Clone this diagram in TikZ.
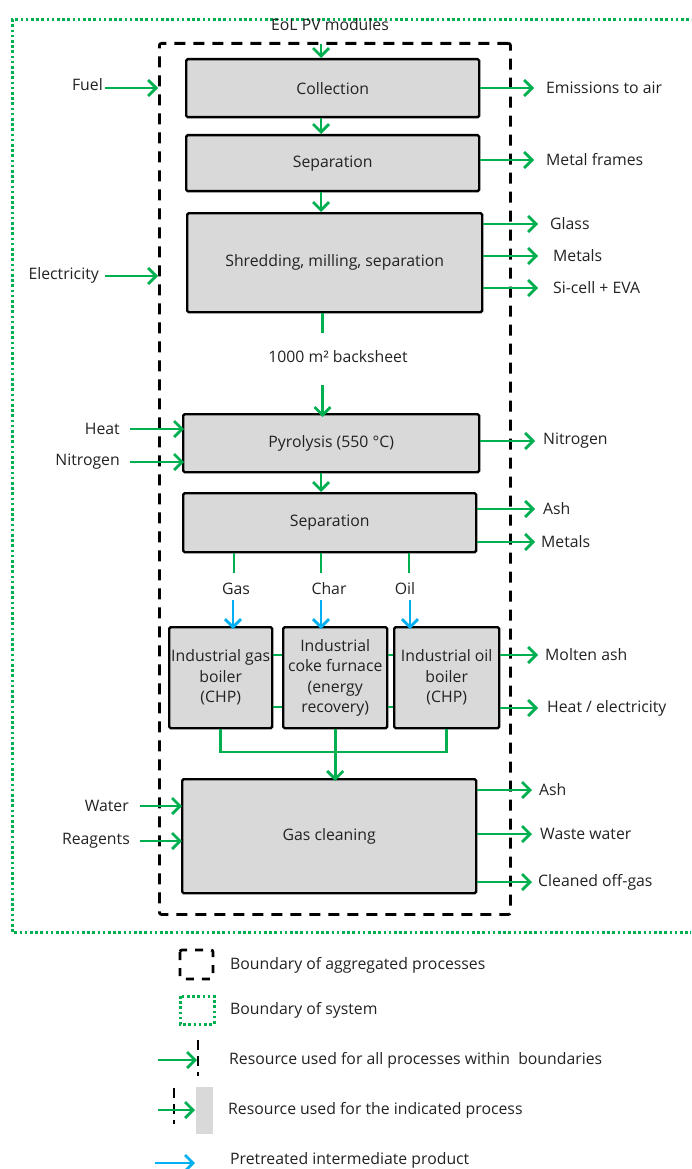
\documentclass[tikz,border=0pt]{standalone}
\usepackage{fontspec}
\setmainfont{Open Sans}
\usetikzlibrary{arrows.meta}
\definecolor{flowgreen}{HTML}{00B050}
\definecolor{pretblue}{HTML}{00B0F0}
\definecolor{boxgray}{HTML}{D9D9D9}
\definecolor{txt}{HTML}{222222}
\begin{document}
\begin{tikzpicture}[x=1pt,y=-1pt,
  every node/.style={font=\fontsize{15.8}{20.5}\selectfont, text=txt},
  proc/.style={draw=black, line width=2.4pt, fill=boxgray, rounded corners=1.5pt,
    anchor=north west, inner sep=0pt, align=center},
  aggline/.style={draw=black, line width=2.8pt, dash pattern=on 11pt off 8pt},
  sysline/.style={draw=flowgreen, line width=3pt, dash pattern=on 2.6pt off 2.6pt},
  flow/.style={draw=flowgreen, line width=2.8pt,
    -{Straight Barb[length=8pt,width=16pt]}},
  pret/.style={draw=pretblue, line width=2.8pt,
    -{Straight Barb[length=8pt,width=16pt]}},
  link/.style={draw=flowgreen, line width=2.6pt},
  inlbl/.style={anchor=east, inner sep=0pt},
  outlbl/.style={anchor=west, inner sep=0pt},
  keylbl/.style={anchor=west, inner sep=0pt},
]
\useasboundingbox (0,0) rectangle (691,1169);
\clip (0,0) rectangle (691,1169);

% system and aggregation boundaries
\draw[sysline] (720,20) -- (12,20) -- (12,932) -- (720,932);
\node[aggline, rounded corners=2pt, anchor=north west, inner sep=0pt,
      minimum width=351pt, minimum height=871pt] (agg) at (158,42) {};

% process boxes
\node[proc, minimum width=293pt, minimum height=58pt]  (coll)  at (185,58)  {Collection};
\node[proc, minimum width=293pt, minimum height=56pt]  (sepa)  at (185,134) {Separation};
\node[proc, minimum width=295pt, minimum height=99pt]  (shred) at (186,212) {Shredding, milling, separation};
\node[proc, minimum width=296pt, minimum height=58pt]  (pyro)  at (182,413) {Pyrolysis (550 °C)};
\node[proc, minimum width=293pt, minimum height=59pt]  (sepb)  at (182,492) {Separation};
\node[proc, minimum width=103pt, minimum height=101pt] (gasb)  at (168,626) {Industrial gas\\boiler\\(CHP)};
\node[proc, minimum width=104pt, minimum height=101pt] (coke)  at (282,626) {Industrial\\coke furnace\\(energy\\recovery)};
\node[proc, minimum width=105pt, minimum height=101pt] (oilb)  at (393,626) {Industrial oil\\boiler\\(CHP)};
\node[proc, minimum width=294pt, minimum height=114pt] (clean) at (181,778) {Gas cleaning};

% main chain
\coordinate (ax) at (321,0);
\coordinate (axb) at (322.5,0);
\node (eol) at (330,25) {EoL PV modules};
\draw[flow, shorten <=2pt] (ax |- agg.north) -- (ax |- coll.north);
\draw[flow] (ax |- coll.south) -- (ax |- sepa.north);
\draw[flow] (ax |- sepa.south) -- (ax |- shred.north);
\node (bs) at (338,357) {1000 m² backsheet};
\draw[link] (axb |- shred.south) -- (axb |- 0,333);
\draw[flow] (axb |- 0,385) -- ([yshift=-4pt]axb |- pyro.north);
\draw[flow] (ax |- pyro.south) -- (ax |- sepb.north);

% split of pyrolysis products
\node (lgas)  at (236,589) {Gas};
\node (lchar) at (329,589) {Char};
\node (loil)  at (405,589) {Oil};
\coordinate (sg) at (234,0);
\coordinate (sc) at (321,0);
\coordinate (so) at (409,0);
\coordinate (bg) at (233,0);
\coordinate (bc) at (321,0);
\coordinate (bo) at (410,0);
\draw[link] (sg |- sepb.south) -- (sg |- 0,573);
\draw[link] (sc |- sepb.south) -- (sc |- 0,573);
\draw[link] (so |- sepb.south) -- (so |- 0,573);
\draw[pret] (bg |- 0,600) -- ([yshift=-3pt]bg |- gasb.north);
\draw[pret] (bc |- 0,600) -- ([yshift=-3pt]bc |- coke.north);
\draw[pret] (bo |- 0,600) -- ([yshift=-3pt]bo |- oilb.north);

% links between the combustion units
\draw[link] (gasb.east |- 0,655) -- (coke.west |- 0,655);
\draw[link] (gasb.east |- 0,707) -- (coke.west |- 0,707);
\draw[link] (coke.east |- 0,655) -- (oilb.west |- 0,655);
\draw[link] (coke.east |- 0,707) -- (oilb.west |- 0,707);
\coordinate (bus) at (0,752);
\draw[link] (gasb.south) |- (coke.south |- bus) -| (oilb.south);
\draw[flow] (coke.south) -- ([yshift=-3pt]coke.south |- clean.north);

% inputs
\node[inlbl] (fuel) at (103,85)  {Fuel};
\node[inlbl] (elec) at (99,275)  {Electricity};
\node[inlbl] (heat) at (120,429) {Heat};
\node[inlbl] (nitr) at (120,462) {Nitrogen};
\node[inlbl] (watr) at (129,806) {Water};
\node[inlbl] (reag) at (130,841) {Reagents};
\draw[flow, shorten <=2pt] (fuel.east |- 0,88) -- (agg.west |- 0,88);
\draw[flow, shorten <=6pt] (elec.east |- 0,276) -- (agg.west |- 0,276);
\draw[flow, shorten <=10pt] (heat.east |- 0,429) -- ([xshift=2pt]pyro.west |- 0,429);
\draw[flow, shorten <=10pt] (nitr.east |- 0,462) -- ([xshift=2pt]pyro.west |- 0,462);
\draw[flow, shorten <=11pt] (watr.east |- 0,806) -- ([xshift=1pt]clean.west |- 0,806);
\draw[flow, shorten <=10pt] (reag.east |- 0,841) -- ([xshift=1pt]clean.west |- 0,841);

% outputs
\node[outlbl] (emis) at (546,88)  {Emissions to air};
\node[outlbl] (mfra) at (546,160) {Metal frames};
\node[outlbl] (glas) at (550,224) {Glass};
\node[outlbl] (meta) at (553,256) {Metals};
\node[outlbl] (sice) at (553,288) {Si-cell + EVA};
\node[outlbl] (nout) at (543,441) {Nitrogen};
\node[outlbl] (asha) at (543,509) {Ash};
\node[outlbl] (metb) at (541,542) {Metals};
\node[outlbl] (molt) at (545,655) {Molten ash};
\node[outlbl] (hele) at (547,708) {Heat / electricity};
\node[outlbl] (ashb) at (539,790) {Ash};
\node[outlbl] (wast) at (540,834) {Waste water};
\node[outlbl] (clog) at (538,882) {Cleaned off-gas};
\draw[flow, shorten >=12pt] (coll.east |- emis.west) -- (emis.west);
\draw[flow, shorten >=12pt] (sepa.east |- mfra.west) -- (mfra.west);
\draw[flow, shorten >=12pt] (shred.east |- glas.west) -- (glas.west);
\draw[flow, shorten >=15pt] (shred.east |- meta.west) -- (meta.west);
\draw[flow, shorten >=15pt] (shred.east |- sice.west) -- (sice.west);
\draw[flow, shorten >=8pt] (pyro.east |- nout.west) -- (nout.west);
\draw[flow, shorten >=8pt] (sepb.east |- asha.west) -- (asha.west);
\draw[flow, shorten >=6pt] (sepb.east |- metb.west) -- (metb.west);
\draw[flow, shorten >=7pt] (oilb.east |- molt.west) -- (molt.west);
\draw[flow, shorten >=9pt] (oilb.east |- hele.west) -- (hele.west);
\draw[flow, shorten >=7pt] (clean.east |- ashb.west) -- (ashb.west);
\draw[flow, shorten >=8pt] (clean.east |- wast.west) -- (wast.west);
\draw[flow, shorten >=6pt] (clean.east |- clog.west) -- (clog.west);

% key
\draw[aggline, dash pattern=on 8pt off 8pt, rounded corners=2pt] (180,950) rectangle (213,979);
\node[keylbl] (k1) at (230,965) {Boundary of aggregated processes};
\draw[sysline] (180,996) rectangle (214,1024);
\node[keylbl] (k2) at (230,1010) {Boundary of system};
\draw[flow] (158,1060) -- (197,1060);
\draw[aggline, dash pattern=on 10pt off 6pt] (198,1040) -- (198,1076);
\node[keylbl] (k3) at (229,1060) {Resource used for all processes within\ \ boundaries};
\fill[boxgray] (196,1087) rectangle (213,1134);
\draw[aggline, dash pattern=on 10pt off 6pt] (174,1088) -- (174,1124);
\draw[flow] (158,1110) -- (195,1110);
\node[keylbl] (k4) at (228,1110) {Resource used for the indicated process};
\draw[pret] (155,1163) -- (195,1163);
\node[keylbl] (k5) at (230,1160) {Pretreated intermediate product};
\end{tikzpicture}
\end{document}
